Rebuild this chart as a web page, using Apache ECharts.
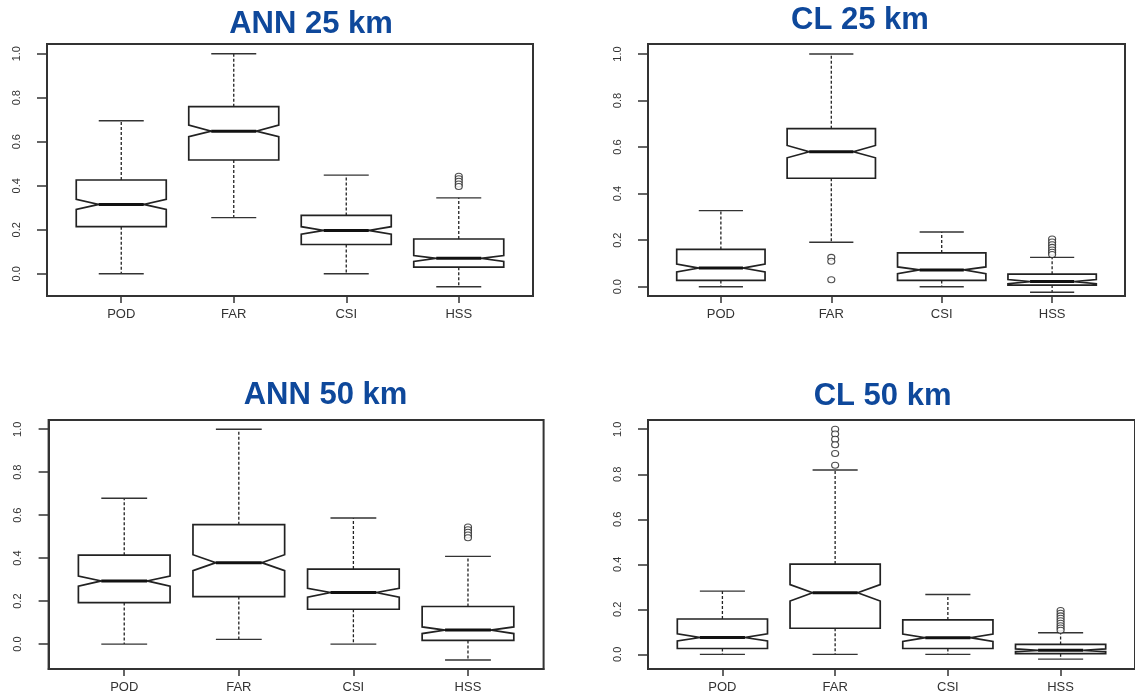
<!DOCTYPE html>
<html><head><meta charset="utf-8">
<script src="https://cdn.jsdelivr.net/npm/echarts@6/dist/echarts.min.js"></script>
<style>html,body{margin:0;padding:0;background:#fff}#c{width:1135px;height:694px}</style>
</head><body><div id="c"></div>
<script>
const categories = ['POD', 'FAR', 'CSI', 'HSS'];
const panelTitles = ['ANN 25 km', 'CL 25 km', 'ANN 50 km', 'CL 50 km'];
const yTickValues = [0, 0.2, 0.4, 0.6, 0.8, 1.0];
const yTickLabels = ['0.0', '0.2', '0.4', '0.6', '0.8', '1.0'];

// per category: [lower whisker, Q1, notch low, median, notch high, Q3, upper whisker]
const ann25Stats = [
  [0.0, 0.214, 0.292, 0.315, 0.338, 0.426, 0.695],
  [0.255, 0.517, 0.623, 0.648, 0.676, 0.759, 1.0],
  [0.0, 0.133, 0.180, 0.197, 0.214, 0.265, 0.448],
  [-0.059, 0.030, 0.056, 0.070, 0.083, 0.158, 0.345]
];
// [category index, value]
const ann25Outliers = [[3, 0.443], [3, 0.432], [3, 0.420], [3, 0.408], [3, 0.397]];

const cl25Stats = [
  [0.0, 0.027, 0.063, 0.080, 0.097, 0.160, 0.327],
  [0.191, 0.466, 0.554, 0.580, 0.607, 0.679, 1.0],
  [0.0, 0.027, 0.056, 0.072, 0.085, 0.145, 0.235],
  [-0.024, 0.007, 0.013, 0.022, 0.031, 0.054, 0.126]
];
const cl25Outliers = [[1, 0.126], [1, 0.109], [1, 0.030],
  [3, 0.205], [3, 0.192], [3, 0.180], [3, 0.169], [3, 0.158], [3, 0.148], [3, 0.138]];

const ann50Stats = [
  [0.0, 0.193, 0.270, 0.294, 0.317, 0.414, 0.679],
  [0.022, 0.221, 0.342, 0.379, 0.416, 0.556, 1.0],
  [0.0, 0.162, 0.218, 0.240, 0.260, 0.349, 0.587],
  [-0.074, 0.017, 0.049, 0.065, 0.080, 0.175, 0.408]
];
const ann50Outliers = [[3, 0.545], [3, 0.532], [3, 0.520], [3, 0.508], [3, 0.495]];

const cl50Stats = [
  [0.0, 0.026, 0.060, 0.075, 0.091, 0.157, 0.281],
  [0.0, 0.116, 0.237, 0.274, 0.310, 0.401, 0.819],
  [0.0, 0.026, 0.057, 0.074, 0.090, 0.153, 0.266],
  [-0.021, 0.003, 0.012, 0.018, 0.024, 0.044, 0.096]
];
const cl50Outliers = [[1, 1.0], [1, 0.979], [1, 0.956], [1, 0.931], [1, 0.892], [1, 0.840],
  [3, 0.195], [3, 0.183], [3, 0.171], [3, 0.160], [3, 0.149], [3, 0.138], [3, 0.127], [3, 0.117], [3, 0.107]];

const allStats = [ann25Stats, cl25Stats, ann50Stats, cl50Stats];
const allOutliers = [ann25Outliers, cl25Outliers, ann50Outliers, cl50Outliers];

// layout (pixels / axis ranges)
const layouts = [
  {left: 47, top: 44, width: 486, height: 252, ymin: -0.101, ymax: 1.044, tx: 311, ty: 8.5},
  {left: 648, top: 44, width: 477, height: 252, ymin: -0.040, ymax: 1.043, tx: 860, ty: 4.5},
  {left: 48.6, top: 420, width: 495, height: 250, ymin: -0.116, ymax: 1.043, tx: 325.5, ty: 379.5},
  {left: 648, top: 420, width: 494, height: 251, ymin: -0.065, ymax: 1.041, tx: 882.6, ty: 381}
];

const INK = '#222';
const FONT = 'Liberation Sans, Arial, sans-serif';

function renderBox(params, api) {
  const x = api.value(0);
  const lo = api.value(1), q1 = api.value(2), nlo = api.value(3), med = api.value(4),
        nhi = api.value(5), q3 = api.value(6), hi = api.value(7);
  const w = 0.4;
  const P = (dx, v) => api.coord([x + dx, v]);
  const pts = [P(-w, q1), P(w, q1), P(w, nlo), P(w * 0.5, med), P(w, nhi), P(w, q3),
               P(-w, q3), P(-w, nhi), P(-w * 0.5, med), P(-w, nlo)];
  const line = (a, b, style) => ({type: 'line', shape: {x1: a[0], y1: a[1], x2: b[0], y2: b[1]}, style: style});
  const dashed = {stroke: INK, lineWidth: 1.3, lineDash: [3, 2]};
  const cap = {stroke: '#333', lineWidth: 1.4};
  return {
    type: 'group',
    children: [
      line(P(0, q3), P(0, hi), dashed),
      line(P(0, q1), P(0, lo), dashed),
      line(P(-w * 0.5, hi), P(w * 0.5, hi), cap),
      line(P(-w * 0.5, lo), P(w * 0.5, lo), cap),
      {type: 'polygon', shape: {points: pts}, style: {fill: '#fff', stroke: INK, lineWidth: 1.7}},
      line(P(-w * 0.5, med), P(w * 0.5, med), {stroke: '#111', lineWidth: 3})
    ]
  };
}

const grids = [], xAxes = [], yAxes = [], series = [], titles = [];
layouts.forEach((L, i) => {
  grids.push({left: L.left, top: L.top, width: L.width, height: L.height, show: true,
    borderColor: '#333', borderWidth: 2, backgroundColor: 'transparent'});
  xAxes.push({
    gridIndex: i, type: 'value', min: 0.34, max: 4.66, position: 'bottom',
    axisLine: {show: true, onZero: false, lineStyle: {color: '#333', width: 2}},
    axisTick: {show: true, customValues: [1, 2, 3, 4], length: 7, lineStyle: {color: '#333', width: 1.5}},
    axisLabel: {show: true, customValues: [1, 2, 3, 4], formatter: v => categories[Math.round(v) - 1],
      margin: 12, fontSize: 13, color: '#333', fontFamily: FONT},
    splitLine: {show: false}
  });
  yAxes.push({
    gridIndex: i, type: 'value', min: L.ymin, max: L.ymax, position: 'left',
    axisLine: {show: true, onZero: false, lineStyle: {color: '#333', width: 2}},
    axisTick: {show: true, customValues: yTickValues, length: 10, lineStyle: {color: '#333', width: 1.5}},
    axisLabel: {show: true, customValues: yTickValues, rotate: 90,
      formatter: v => yTickLabels[Math.round(v * 5)], margin: 25, fontSize: 11, color: '#333', fontFamily: FONT},
    splitLine: {show: false}
  });
  series.push({
    type: 'custom', xAxisIndex: i, yAxisIndex: i, renderItem: renderBox,
    encode: {x: 0, y: [1, 2, 3, 4, 5, 6, 7]},
    data: allStats[i].map((s, k) => [k + 1].concat(s)), silent: true, z: 2
  });
  series.push({
    type: 'scatter', xAxisIndex: i, yAxisIndex: i, symbol: 'circle', symbolSize: [7, 6],
    itemStyle: {color: '#fff', borderColor: '#222', borderWidth: 1.1},
    data: allOutliers[i].map(o => [o[0] + 1, o[1]]), silent: true, z: 3
  });
  titles.push({text: panelTitles[i], left: L.tx, top: L.ty, textAlign: 'center', padding: 0,
    textStyle: {fontSize: 31, fontWeight: 'bold', color: '#0e489b', fontFamily: FONT}});
});

const chart = echarts.init(document.getElementById('c'), null, {renderer: 'canvas'});
chart.setOption({
  animation: false, backgroundColor: '#fff',
  title: titles, grid: grids, xAxis: xAxes, yAxis: yAxes, series: series
});
</script></body></html>
